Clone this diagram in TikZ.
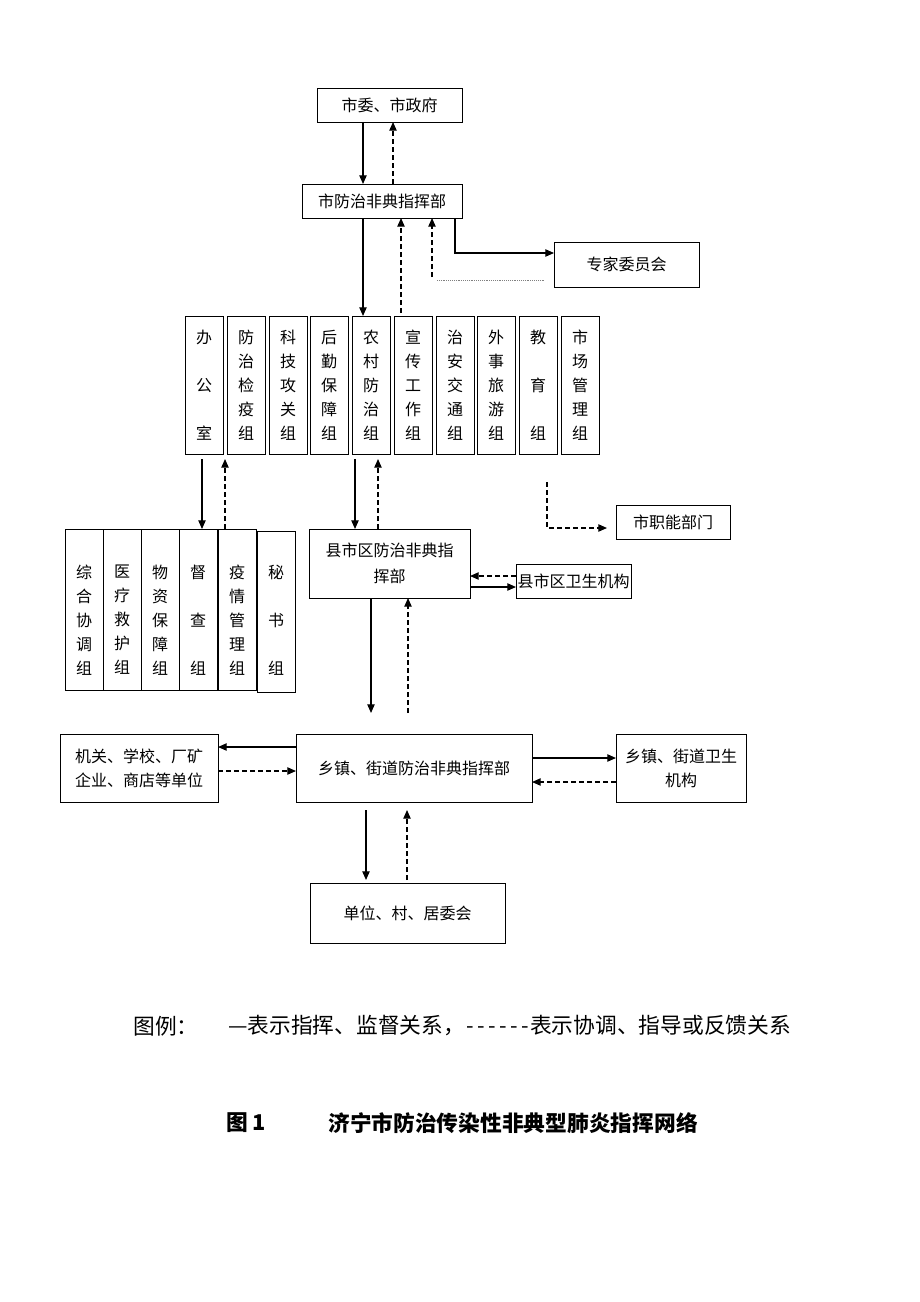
\documentclass[tikz,border=0pt]{standalone}
\usepackage{fontspec}
\setmainfont{Noto Sans CJK SC}
\usetikzlibrary{arrows.meta,calc}
\newdimen\pxu \pxu=0.75pt
\newcommand\hy{\makebox[0.5em]{-}}
\tikzset{
  box/.style={draw, line width=0.65pt, inner sep=0pt, outer sep=0pt, anchor=north west,
    font=\fontsize{12}{18}\selectfont, align=center},
  vt/.style={inner sep=0pt, font=\fontsize{12}{18}\selectfont, align=center},
  cmd/.style={line width=0.9pt, -{Triangle[length=6.5pt,width=5.5pt]}},
  fb/.style={cmd, dash pattern=on 3.5pt off 2.5pt},
  dotl/.style={line width=0.5pt, gray, dash pattern=on 0.6pt off 0.8pt},
  legend/.style={anchor=west, inner sep=0pt, font=\fontsize{16.3}{20}\selectfont},
  caption/.style={anchor=west, inner sep=0pt, font=\fontsize{16.3}{20}\selectfont\bfseries},
}
\begin{document}
\begin{tikzpicture}[x=0.75pt,y=-0.75pt]
\useasboundingbox (0,0) rectangle (920,1302);

% top boxes
\node[box, minimum width=145*\pxu, minimum height=34*\pxu] (gov) at (317,88) {市委、市政府};
\node[box, minimum width=160*\pxu, minimum height=34*\pxu] (hq) at (302,184) {市防治非典指挥部};
\node[box, minimum width=145*\pxu, minimum height=45*\pxu] (exp) at (554,242) {专家委员会};

% group row
\foreach \i/\x/\t in {1/185/{办\\\strut\\公\\\strut\\室},
                       2/227/{防\\治\\检\\疫\\组},
                       3/269/{科\\技\\攻\\关\\组},
                       4/310/{后\\勤\\保\\障\\组},
                       5/352/{农\\村\\防\\治\\组},
                       6/394/{宣\\传\\工\\作\\组},
                       7/436/{治\\安\\交\\通\\组},
                       8/477/{外\\事\\旅\\游\\组},
                       9/519/{教\\\strut\\育\\\strut\\组},
                       10/561/{市\\场\\管\\理\\组}}
  \node[box, minimum width=38*\pxu, minimum height=138*\pxu] (g\i) at (\x,316) {\t};

% left cluster
\foreach \i/\x/\t in {1/65/{综\\合\\协\\调\\组},
                       2/103/{医\\疗\\救\\护\\组},
                       3/141/{物\\资\\保\\障\\组},
                       4/179/{督\\\strut\\查\\\strut\\组},
                       5/218/{疫\\情\\管\\理\\组}}
{
  \node[box, minimum width=38*\pxu, minimum height=161*\pxu] (c\i) at (\x,529) {};
  \node[vt] at ($(c\i.center)+(0,10.5)$) {\t};
}
\node[box, minimum width=38*\pxu, minimum height=161*\pxu] (c6) at (257,531) {};
\node[vt] at ($(c6.center)+(0,8.5)$) {秘\\\strut\\书\\\strut\\组};

% county level
\node[box, minimum width=161*\pxu, minimum height=69*\pxu, font=\fontsize{12}{19.5}\selectfont] (cty) at (309,529) {县市区防治非典指\\挥部};
\node[box, minimum width=115*\pxu, minimum height=34*\pxu] (ctyh) at (516,564) {县市区卫生机构};
\node[box, minimum width=114*\pxu, minimum height=34*\pxu] (func) at (616,505) {市职能部门};

% town level
\node[box, minimum width=236*\pxu, minimum height=68*\pxu] (town) at (296,734) {乡镇、街道防治非典指挥部};
\node[box, minimum width=158*\pxu, minimum height=68*\pxu] (org) at (60,734) {机关、学校、厂矿\\企业、商店等单位};
\node[box, minimum width=130*\pxu, minimum height=68*\pxu] (townh) at (616,734) {乡镇、街道卫生\\机构};
\node[box, minimum width=195*\pxu, minimum height=60*\pxu] (unit) at (310,883) {单位、村、居委会};

% helper coordinates
\coordinate (x363) at (363,0);
\coordinate (x393) at (393,0);
\coordinate (x401) at (401,0);
\coordinate (x202) at (202,0);
\coordinate (x225) at (225,0);
\coordinate (x355) at (355,0);
\coordinate (x378) at (378,0);
\coordinate (x371) at (371,0);
\coordinate (x408) at (408,0);
\coordinate (x366) at (366,0);
\coordinate (x407) at (407,0);
\coordinate (e1) at (455,253);
\coordinate (d1) at (437,280);
\coordinate (d2) at (432,277);
\coordinate (f0) at (547,482);
\coordinate (f1) at (547,528);
\coordinate (y576) at (0,576);
\coordinate (y587) at (0,587);
\coordinate (y747) at (0,747);
\coordinate (y771) at (0,771);
\coordinate (y758) at (0,758);
\coordinate (y782) at (0,782);

% connectors top
\draw[cmd] (gov.south -| x363) -- (hq.north -| x363);
\draw[fb]  (hq.north -| x393) -- (gov.south -| x393);
\draw[cmd] (hq.south -| e1) -- (e1) -- (exp.west |- e1);
\draw[dotl, shorten >=6.75pt] (d1) -- (exp.west |- d1);
\draw[fb]  (d2) -- (hq.south -| d2);
\draw[cmd] (hq.south -| x363) -- (g5.north -| x363);
\draw[fb, shorten <=2.25pt] (g6.north -| x401) -- (hq.south -| x401);

% groups to lower level
\draw[cmd, shorten <=3.75pt] (g1.south -| x202) -- (c4.north -| x202);
\draw[fb, shorten >=3.75pt] (c5.north -| x225) -- (g1.south -| x225);
\draw[cmd, shorten <=3.75pt] (g5.south -| x355) -- (cty.north -| x355);
\draw[fb, shorten >=3.75pt] (cty.north -| x378) -- (g5.south -| x378);
\draw[fb, shorten >=6.75pt] (f0) -- (f1) -- (func.west |- f1);

% county
\draw[fb]  (ctyh.west |- y576) -- (cty.east |- y576);
\draw[cmd] (cty.east |- y587) -- (ctyh.west |- y587);
\draw[cmd, shorten >=15.75pt] (cty.south -| x371) -- (town.north -| x371);
\draw[fb, shorten <=15.75pt] (town.north -| x408) -- (cty.south -| x408);

% town
\draw[cmd] (town.west |- y747) -- (org.east |- y747);
\draw[fb]  (org.east |- y771) -- (town.west |- y771);
\draw[cmd] (town.east |- y758) -- (townh.west |- y758);
\draw[fb]  (townh.west |- y782) -- (town.east |- y782);
\draw[cmd, shorten <=6pt, shorten >=2.25pt] (town.south -| x366) -- (unit.north -| x366);
\draw[fb, shorten <=2.25pt, shorten >=6pt] (unit.north -| x407) -- (town.south -| x407);

% legend and caption
\node[legend] (leg1) at (133,1026) {图例：};
\node[legend] (leg2) at (228,1026) {—表示指挥、监督关系，\hy\hy\hy\hy\hy\hy 表示协调、指导或反馈关系};
\node[caption] (cap1) at (226,1123) {图 1};
\node[caption] (cap2) at (328,1123) {济宁市防治传染性非典型肺炎指挥网络};
\end{tikzpicture}
\end{document}
